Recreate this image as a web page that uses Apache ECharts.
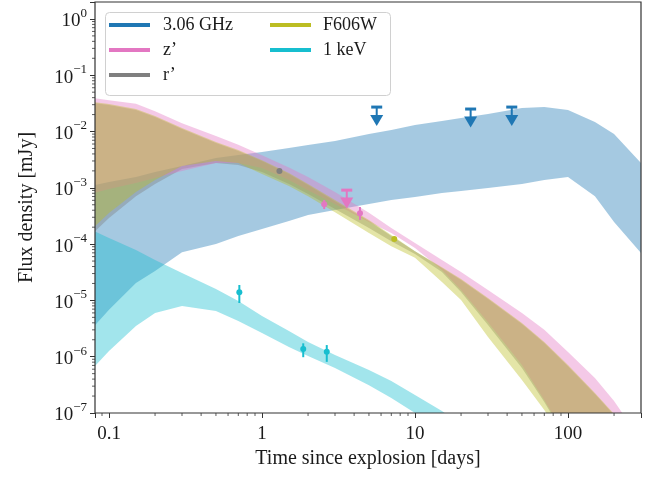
<!DOCTYPE html>
<html>
<head>
<meta charset="utf-8">
<script src="https://cdn.jsdelivr.net/npm/echarts@6/dist/echarts.min.js"></script>
<style>
  html, body { margin: 0; padding: 0; background: #fff; }
  #chart { width: 654px; height: 479px; }
</style>
</head>
<body>
<div id="chart"></div>
<script>
const FONT = '"Liberation Serif", "Times New Roman", serif';
const TXT = '#1a1a1a';

// model bands, time in days
const tModel = [0.08, 0.1, 0.15, 0.2, 0.3, 0.5, 0.7, 1, 1.5, 2, 3, 5, 7, 10, 15, 20, 30, 50, 70, 100, 150, 200, 300];

const radioHi = [1.12e-3, 1.27e-3, 1.56e-3, 1.91e-3, 2.44e-3, 3.38e-3, 3.83e-3, 4.33e-3, 5.1e-3, 5.75e-3, 6.8e-3, 9.0e-3, 1.06e-2, 1.3e-2, 1.54e-2, 1.74e-2, 2.05e-2, 2.61e-2, 2.72e-2, 2.41e-2, 1.47e-2, 9.0e-3, 2.76e-3];
const radioLo = [3.5e-6, 6.8e-6, 2.04e-5, 3.33e-5, 7.2e-5, 1.0e-4, 1.39e-4, 1.85e-4, 2.57e-4, 3.29e-4, 4.04e-4, 5.15e-4, 6.1e-4, 6.9e-4, 8.1e-4, 8.8e-4, 9.9e-4, 1.17e-3, 1.38e-3, 1.56e-3, 7.1e-4, 2.47e-4, 6.95e-5];

const zHi = [3.9e-2, 3.6e-2, 3.1e-2, 2.3e-2, 1.4e-2, 8.3e-3, 5.8e-3, 3.8e-3, 2.3e-3, 1.56e-3, 8.4e-4, 3.6e-4, 1.93e-4, 1.05e-4, 5.2e-5, 3.2e-5, 1.53e-5, 6.0e-6, 3.0e-6, 1.21e-6, 4.2e-7, 1.63e-7, 3.3e-8];
const zLo = [8.1e-4, 9.5e-4, 1.22e-3, 1.49e-3, 1.99e-3, 2.76e-3, 2.76e-3, 2.25e-3, 1.38e-3, 9.1e-4, 5.15e-4, 2.47e-4, 1.57e-4, 8.5e-5, 3.47e-5, 1.53e-5, 4.1e-6, 7.1e-7, 1.7e-7, 3.3e-8, 5e-9, 3e-9, 2e-9];

const rHi = [3.21e-2, 2.96e-2, 2.41e-2, 1.81e-2, 1.11e-2, 6.25e-3, 4.51e-3, 2.99e-3, 1.76e-3, 1.12e-3, 5.8e-4, 2.57e-4, 1.39e-4, 7.5e-5, 3.76e-5, 2.3e-5, 1.06e-5, 3.81e-6, 1.75e-6, 6.8e-7, 2.17e-7, 9.2e-8, 2.1e-8];
const rLo = [1.64e-4, 2.91e-4, 7.1e-4, 1.17e-3, 2.16e-3, 2.76e-3, 2.54e-3, 1.91e-3, 1.17e-3, 7.8e-4, 4.2e-4, 1.93e-4, 1.13e-4, 6.7e-5, 3.19e-5, 1.41e-5, 3.66e-6, 6.3e-7, 1.57e-7, 3.1e-8, 5e-9, 3e-9, 2e-9];

const fHi = [3.34e-2, 3.08e-2, 2.51e-2, 1.88e-2, 1.15e-2, 6.5e-3, 4.7e-3, 3.1e-3, 1.83e-3, 1.17e-3, 6.1e-4, 2.68e-4, 1.45e-4, 7.5e-5, 3.9e-5, 2.4e-5, 1.1e-5, 3.97e-6, 1.82e-6, 7.1e-7, 2.26e-7, 9.6e-8, 2.2e-8];
const fLo = [2.01e-4, 3.56e-4, 8.4e-4, 1.38e-3, 2.44e-3, 2.99e-3, 2.76e-3, 1.76e-3, 1.08e-3, 7.1e-4, 3.7e-4, 1.57e-4, 9.2e-5, 5.7e-5, 2.12e-5, 1.02e-5, 2.24e-6, 3.86e-7, 1.13e-7, 2.7e-8, 5e-9, 3e-9, 2e-9];

const tXray = [0.08, 0.1, 0.15, 0.2, 0.3, 0.5, 0.7, 1, 1.5, 2, 3, 5, 7, 10, 15, 20, 30];
const xrayHi = [1.71e-4, 1.28e-4, 7.85e-5, 5.2e-5, 3.07e-5, 1.59e-5, 9.75e-6, 5.28e-6, 2.86e-6, 1.82e-6, 1.07e-6, 5.8e-7, 3.7e-7, 2.09e-7, 1.09e-7, 6.1e-8, 2.4e-8];
const xrayLo = [6.6e-7, 1.26e-6, 3.5e-6, 6.0e-6, 7.95e-6, 6.5e-6, 4.3e-6, 2.64e-6, 1.49e-6, 1.03e-6, 6.3e-7, 3.1e-7, 1.85e-7, 1.0e-7, 4.1e-8, 2e-8, 6e-9];

// observations
const xrayT = [0.711, 1.86, 2.65];
const xrayF = [1.39e-5, 1.37e-6, 1.23e-6];
const xrayErrLo = [9.0e-6, 9.8e-7, 8.1e-7];
const xrayErrHi = [1.88e-5, 1.73e-6, 1.61e-6];

const zT = [2.55, 4.37];
const zF = [5.1e-4, 3.52e-4];
const zErrLo = [4.2e-4, 2.68e-4];
const zErrHi = [6.07e-4, 4.56e-4];
const zLimT = [3.58];
const zLimF = [5.4e-4];
const zLimCap = [9.1e-4];

const rT = [1.30];
const rF = [1.99e-3];
const fT = [7.32];
const fF = [1.23e-4];

const radioLimT = [5.62, 23.1, 42.9];
const radioLimF = [1.57e-2, 1.48e-2, 1.57e-2];
const radioLimCap = [2.72e-2, 2.51e-2, 2.72e-2];

// axes
const xMin = 0.081, xMax = 300;
const yMin = 1e-7, yMax = 2;
const xTicks = [0.1, 1, 10, 100];
const xTickLabels = ['0.1', '1', '10', '100'];
const minorMant = [2, 3, 4, 5, 6, 7, 8, 9];
const xDecades = [-2, -1, 0, 1, 2];
const yDecades = [-7, -6, -5, -4, -3, -2, -1];

const C = {
  radio: '#1f77b4', z: '#e377c2', r: '#7f7f7f', f: '#bcbd22', x: '#17becf'
};

function minorList(decades, lo, hi) {
  const out = [];
  decades.forEach(d => minorMant.forEach(m => {
    const v = Number((m * Math.pow(10, d)).toPrecision(3));
    if (v > lo * 1.001 && v < hi * 0.999) out.push(v);
  }));
  return out;
}
const xMinor = minorList(xDecades, xMin, xMax);
const yMinor = minorList(yDecades, yMin, yMax);

function clipOf(params) {
  const cs = params.coordSys;
  return { type: 'rect', shape: { x: cs.x, y: cs.y, width: cs.width, height: cs.height } };
}

function band(name, color, t, lo, hi) {
  return {
    type: 'custom', name: name, z: 1, silent: true,
    itemStyle: { color: color },
    data: [[1, 1e-3]],
    renderItem: function (params, api) {
      const pts = [];
      for (let i = 0; i < t.length; i++) pts.push(api.coord([t[i], hi[i]]));
      for (let i = t.length - 1; i >= 0; i--) pts.push(api.coord([t[i], lo[i]]));
      return {
        type: 'polygon', shape: { points: pts },
        style: { fill: color, opacity: 0.4 },
        clipPath: clipOf(params)
      };
    }
  };
}

function points(name, color, t, f, lo, hi) {
  return {
    type: 'custom', name: name, z: 3, silent: true,
    itemStyle: { color: color },
    data: t.map((v, i) => [v, f[i], lo ? lo[i] : f[i], hi ? hi[i] : f[i]]),
    renderItem: function (params, api) {
      const c = api.coord([api.value(0), api.value(1)]);
      const a = api.coord([api.value(0), api.value(2)]);
      const b = api.coord([api.value(0), api.value(3)]);
      return {
        type: 'group', children: [
          { type: 'line', shape: { x1: a[0], y1: a[1], x2: b[0], y2: b[1] }, style: { stroke: color, lineWidth: 2 } },
          { type: 'circle', shape: { cx: c[0], cy: c[1], r: 3 }, style: { fill: color } }
        ]
      };
    }
  };
}

function limits(name, color, t, f, cap) {
  return {
    type: 'custom', name: name, z: 3, silent: true,
    itemStyle: { color: color },
    data: t.map((v, i) => [v, f[i], cap[i]]),
    renderItem: function (params, api) {
      const c = api.coord([api.value(0), api.value(1)]);
      const k = api.coord([api.value(0), api.value(2)]);
      return {
        type: 'group', children: [
          { type: 'rect', shape: { x: k[0] - 5.5, y: k[1] - 1.5, width: 11, height: 3 }, style: { fill: color } },
          { type: 'line', shape: { x1: k[0], y1: k[1], x2: c[0], y2: c[1] - 4 }, style: { stroke: color, lineWidth: 2 } },
          { type: 'polygon', shape: { points: [[c[0] - 6.5, c[1] - 5.5], [c[0] + 6.5, c[1] - 5.5], [c[0], c[1] + 5.5]] }, style: { fill: color } }
        ]
      };
    }
  };
}

function minorTicks(values, onX) {
  return {
    type: 'custom', z: 5, silent: true,
    data: values.map(v => onX ? [v, yMin] : [xMin, v]),
    renderItem: function (params, api) {
      const p = api.coord([api.value(0), api.value(1)]);
      const shape = onX
        ? { x1: p[0], y1: p[1], x2: p[0], y2: p[1] + 3 }
        : { x1: p[0] - 3, y1: p[1], x2: p[0], y2: p[1] };
      return { type: 'line', shape: shape, style: { stroke: '#333', lineWidth: 0.8 } };
    }
  };
}

function isDecade(v) {
  const e = Math.log10(v);
  return Math.abs(e - Math.round(e)) < 1e-6;
}

const chart = echarts.init(document.getElementById('chart'), null, { renderer: 'canvas' });

chart.setOption({
  animation: false,
  backgroundColor: '#fff',
  textStyle: { fontFamily: FONT },
  grid: {
    left: 95, top: 2, width: 546, height: 411,
    show: true, z: 10, backgroundColor: 'transparent',
    borderColor: '#333', borderWidth: 1.2,
    outerBoundsMode: 'none'
  },
  xAxis: {
    type: 'log', logBase: 10, min: xMin, max: xMax,
    name: 'Time since explosion [days]', nameLocation: 'middle', nameGap: 34,
    nameTextStyle: { fontFamily: FONT, fontSize: 20, color: TXT },
    axisLine: { show: false },
    axisTick: { show: true, length: 5, lineStyle: { color: '#333', width: 1 } },
    splitLine: { show: false },
    axisLabel: {
      margin: 12, fontFamily: FONT, fontSize: 19, color: TXT,
      formatter: function (v) {
        if (!isDecade(v)) return '';
        const i = xTicks.findIndex(x => Math.abs(Math.log10(x) - Math.log10(v)) < 1e-6);
        return i >= 0 ? xTickLabels[i] : '';
      }
    }
  },
  yAxis: {
    type: 'log', logBase: 10, min: yMin, max: yMax,
    name: 'Flux density [mJy]', nameLocation: 'middle', nameGap: 58,
    nameTextStyle: { fontFamily: FONT, fontSize: 20, color: TXT },
    axisLine: { show: false },
    axisTick: { show: true, length: 5, lineStyle: { color: '#333', width: 1 } },
    splitLine: { show: false },
    axisLabel: {
      margin: 8, fontFamily: FONT, color: TXT,
      formatter: function (v) {
        if (!isDecade(v)) return '';
        const k = Math.round(Math.log10(v));
        return '{b|10}{s|' + (k < 0 ? '\u2212' + (-k) : String(k)) + '}';
      },
      rich: {
        b: { fontFamily: FONT, fontSize: 19, color: TXT, lineHeight: 24, verticalAlign: 'bottom' },
        s: { fontFamily: FONT, fontSize: 13, color: TXT, lineHeight: 14, verticalAlign: 'top' }
      }
    }
  },
  legend: [
    {
      left: 109, top: 15, padding: 0, orient: 'vertical', icon: 'rect',
      itemWidth: 41, itemHeight: 4, itemGap: 5, selectedMode: false,
      textStyle: { fontFamily: FONT, fontSize: 18, color: TXT, lineHeight: 20, padding: [0, 0, 0, 8] },
      data: [
        { name: '3.06 GHz', itemStyle: { color: C.radio } },
        { name: 'z\u2019', itemStyle: { color: C.z } },
        { name: 'r\u2019', itemStyle: { color: C.r } }
      ]
    },
    {
      left: 270, top: 15, padding: 0, orient: 'vertical', icon: 'rect',
      itemWidth: 41, itemHeight: 4, itemGap: 5, selectedMode: false,
      textStyle: { fontFamily: FONT, fontSize: 18, color: TXT, lineHeight: 20, padding: [0, 0, 0, 7] },
      data: [
        { name: 'F606W', itemStyle: { color: C.f } },
        { name: '1 keV', itemStyle: { color: C.x } }
      ]
    }
  ],
  graphic: [{
    type: 'rect', left: 103, top: 10, z: 20, silent: true,
    shape: { width: 285, height: 83, r: 4 },
    style: { fill: 'none', stroke: '#d0d0d0', lineWidth: 1 }
  }],
  series: [
    band('3.06 GHz', C.radio, tModel, radioLo, radioHi),
    band('r\u2019', C.r, tModel, rLo, rHi),
    band('z\u2019', C.z, tModel, zLo, zHi),
    band('F606W', C.f, tModel, fLo, fHi),
    band('1 keV', C.x, tXray, xrayLo, xrayHi),
    points('1 keV', C.x, xrayT, xrayF, xrayErrLo, xrayErrHi),
    points('z\u2019', C.z, zT, zF, zErrLo, zErrHi),
    points('r\u2019', C.r, rT, rF),
    points('F606W', C.f, fT, fF),
    limits('z\u2019', C.z, zLimT, zLimF, zLimCap),
    limits('3.06 GHz', C.radio, radioLimT, radioLimF, radioLimCap),
    minorTicks(xMinor, true),
    minorTicks(yMinor, false)
  ]
});
</script>
</body>
</html>
